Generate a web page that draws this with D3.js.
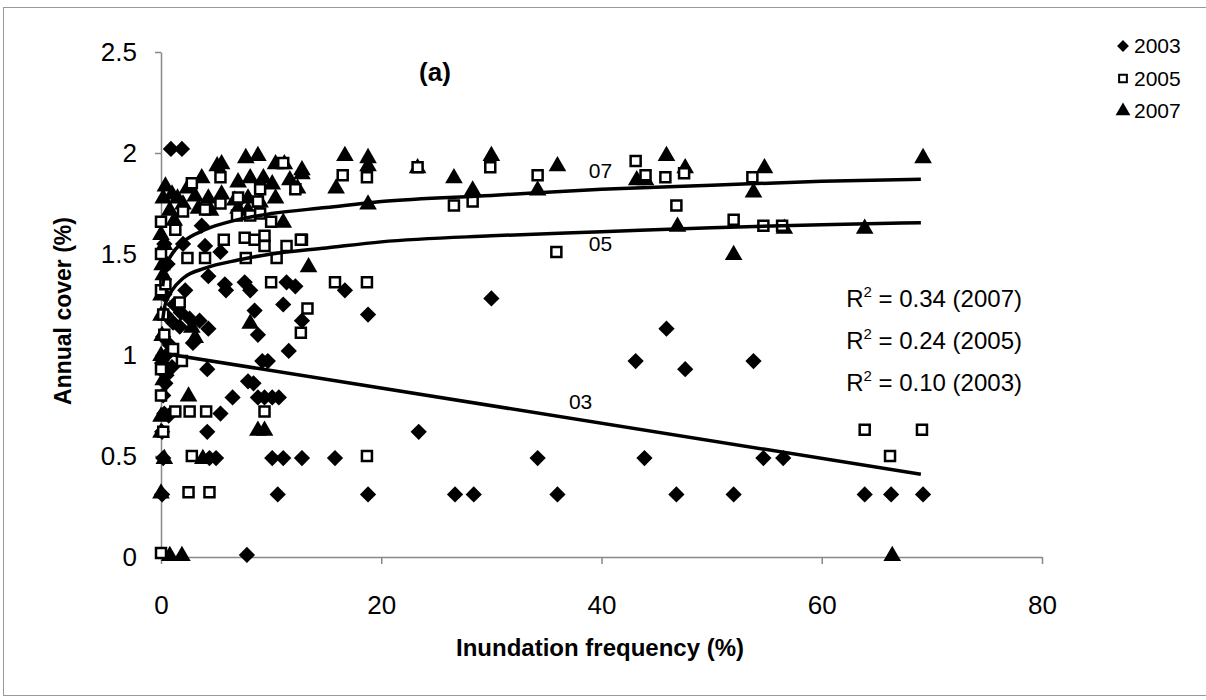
<!DOCTYPE html>
<html><head><meta charset="utf-8">
<script src="https://cdn.jsdelivr.net/npm/d3@7"></script>
<style>
body{margin:0;background:#fff;}
svg{display:block;font-family:Arial,"Liberation Sans",sans-serif;}
</style></head><body>
<svg id="c" width="1206" height="700"></svg>
<script>
// ---- data ----
const series2003 = [[0.9,2.02],[1.9,2.02],[3.7,1.64],[2.0,1.55],[4.0,1.54],[5.4,1.51],[4.3,1.39],[5.8,1.35],[7.6,1.36],[8.1,1.32],[11.4,1.36],[12.2,1.34],[5.9,1.32],[11.1,1.25],[8.5,1.22],[3.5,1.17],[4.3,1.13],[12.8,1.17],[8.8,1.10],[2.9,1.06],[11.6,1.02],[9.2,0.97],[9.7,0.97],[4.2,0.93],[7.9,0.87],[8.4,0.86],[6.5,0.79],[8.8,0.79],[9.4,0.79],[10.1,0.79],[10.7,0.79],[5.4,0.71],[4.2,0.62],[4.4,0.49],[5.0,0.49],[10.1,0.49],[11.1,0.49],[12.8,0.49],[15.8,0.49],[10.6,0.31],[7.8,0.01],[16.7,1.32],[18.8,1.20],[30.0,1.28],[23.4,0.62],[34.2,0.49],[18.8,0.31],[26.7,0.31],[28.4,0.31],[36.0,0.31],[45.9,1.13],[43.1,0.97],[47.6,0.93],[53.8,0.97],[43.9,0.49],[54.7,0.49],[56.5,0.49],[46.8,0.31],[52.0,0.31],[63.9,0.31],[66.3,0.31],[69.2,0.31],[0.1,0.31],[0.2,0.49],[0.1,0.62],[0.3,0.71],[0.2,0.80],[0.4,0.86],[0.1,0.96],[0.5,1.00],[0.2,1.09],[0.8,1.05],[0.4,1.20],[1.1,1.16],[0.3,1.30],[1.2,1.25],[0.6,1.45],[1.8,1.21],[2.6,1.18],[1.7,1.14],[0.3,1.55],[0.7,0.70],[1.0,0.94],[0.5,0.90],[2.2,1.32]];
const series2005 = [[0,0.02],[2.5,0.32],[4.4,0.32],[2.8,0.50],[1.3,0.72],[2.6,0.72],[4.1,0.72],[9.4,0.72],[0,0.80],[13.3,1.23],[12.7,1.11],[16.5,1.89],[18.7,1.88],[23.3,1.93],[26.6,1.74],[28.3,1.76],[29.9,1.93],[34.2,1.89],[35.9,1.51],[15.8,1.36],[18.7,1.36],[12.8,1.57],[18.7,0.50],[43.1,1.96],[44.0,1.89],[45.8,1.88],[47.5,1.90],[53.7,1.88],[46.8,1.74],[52.0,1.67],[54.7,1.64],[56.4,1.64],[63.9,0.63],[69.1,0.63],[66.2,0.50],[5.4,1.88],[11.1,1.95],[2.8,1.85],[9.0,1.82],[12.2,1.82],[5.4,1.75],[7.0,1.78],[8.8,1.76],[2.0,1.71],[4.0,1.72],[6.9,1.69],[8.1,1.69],[9.0,1.70],[10.0,1.66],[0,1.66],[1.3,1.62],[5.7,1.57],[7.6,1.58],[8.5,1.57],[9.4,1.59],[9.4,1.54],[11.4,1.54],[12.7,1.57],[2.4,1.48],[4.0,1.48],[7.7,1.48],[10.5,1.48],[10.0,1.36],[0,1.32],[0.4,1.35],[1.7,1.26],[1.9,0.97],[1.1,1.03],[0,0.93],[0.2,0.62],[0.3,1.10],[0,1.50],[0.2,1.20]];
const series2007 = [[0.8,0.01],[1.9,0.01],[0,0.32],[2.5,0.80],[8.8,0.63],[9.4,0.63],[3.8,0.49],[13.4,1.44],[16.7,1.99],[18.8,1.98],[18.8,1.94],[15.9,1.83],[26.6,1.88],[28.3,1.82],[30.0,1.99],[36.0,1.94],[34.2,1.82],[18.8,1.75],[12.8,1.90],[23.3,1.93],[45.9,1.99],[47.6,1.93],[43.2,1.87],[44.0,1.87],[54.8,1.93],[53.8,1.81],[46.9,1.64],[56.6,1.63],[63.9,1.63],[52.0,1.50],[69.2,1.98],[66.4,0.01],[7.7,1.98],[8.8,1.99],[10.4,1.95],[11.2,1.95],[5.5,1.95],[5.1,1.94],[12.8,1.92],[3.7,1.88],[0.4,1.84],[2.4,1.83],[7.0,1.86],[8.1,1.88],[9.3,1.88],[10.1,1.85],[11.7,1.87],[12.4,1.83],[0.2,1.78],[1.5,1.78],[3.1,1.79],[4.3,1.78],[5.5,1.80],[6.7,1.77],[7.9,1.78],[9.0,1.76],[10.4,1.78],[0.8,1.72],[3.4,1.73],[4.5,1.72],[7.0,1.73],[7.9,1.72],[11.1,1.66],[1.2,1.67],[2.8,1.14],[3.1,1.09],[8.1,1.16],[0,1.20],[0,1.30],[0.2,1.40],[0.1,1.45],[0.3,1.55],[0,1.60],[0.1,1.10],[0,1.00],[0.2,0.88],[0,0.70],[0,0.62],[0.3,0.49],[2.0,1.75],[1.0,1.80]];

// trend lines
const trendX    = [0.15,0.3,0.6,1,2,4,7,10,15,20,30,40,50,60,69];
const trend07Y  = [1.34,1.40,1.46,1.50,1.56,1.62,1.67,1.70,1.73,1.76,1.79,1.82,1.84,1.86,1.87];
const trend05Y  = [1.17,1.23,1.28,1.32,1.38,1.43,1.47,1.50,1.53,1.56,1.59,1.61,1.63,1.645,1.655];
const trend03X  = [0,69];
const trend03Y  = [1.01,0.41];

const xTicks = [0,20,40,60,80];
const yTicks = [0,0.5,1,1.5,2,2.5];
const yTickLabels = ["0","0.5","1","1.5","2","2.5"];
const legendLabels = ["2003","2005","2007"];
const r2Labels = [["0.34","2007"],["0.24","2005"],["0.10","2003"]];

// ---- drawing ----
const svg = d3.select("#c");
const x = d3.scaleLinear().domain([0,80]).range([161,1042]);
const y = d3.scaleLinear().domain([0,2.5]).range([557,52]);

// outer frame
svg.append("rect").attr("x",3.5).attr("y",7.5).attr("width",1210).attr("height",688)
  .attr("fill","none").attr("stroke","#999").attr("stroke-width",1);

const axisColor = "#888";
const gx = svg.append("g").attr("transform","translate(0,557)")
  .call(d3.axisBottom(x).tickValues(xTicks).tickSize(7).tickPadding(32).tickSizeOuter(0));
const gy = svg.append("g").attr("transform","translate(161,0)")
  .call(d3.axisLeft(y).tickValues(yTicks).tickFormat((d,i)=>yTickLabels[i]).tickSize(6).tickPadding(18).tickSizeOuter(0));
[gx,gy].forEach(g=>{
  g.select(".domain").attr("stroke",axisColor).attr("stroke-width",1.5);
  g.selectAll(".tick line").attr("stroke",axisColor).attr("stroke-width",1.5);
  g.selectAll(".tick text").attr("fill","#000").style("font-size","26px").style("font-family","Arial, 'Liberation Sans', sans-serif");
});

// markers
const diamond = d3.symbol().type(d3.symbolSquare).size(132)();
const square = d3.symbol().type(d3.symbolSquare).size(100)();
const tri = d3.symbol().type(d3.symbolTriangle).size(135)();

const g = svg.append("g");
g.selectAll(".d03").data(series2003).join("path").attr("d",diamond)
  .attr("transform",d=>`translate(${x(d[0])},${y(d[1])}) rotate(45)`).attr("fill","#000");
g.selectAll(".d07").data(series2007).join("path").attr("d",tri)
  .attr("transform",d=>`translate(${x(d[0])},${y(d[1])+1})`).attr("fill","#000");
g.selectAll(".d05").data(series2005).join("path").attr("d",square)
  .attr("transform",d=>`translate(${x(d[0])},${y(d[1])})`).attr("fill","#fff").attr("stroke","#000").attr("stroke-width",2.5);

// trend lines
const line = d3.line().x(d=>x(d[0])).y(d=>y(d[1])).curve(d3.curveMonotoneX);
svg.append("path").attr("d",line(trendX.map((v,i)=>[v,trend07Y[i]]))).attr("fill","none").attr("stroke","#000").attr("stroke-width",3.5);
svg.append("path").attr("d",line(trendX.map((v,i)=>[v,trend05Y[i]]))).attr("fill","none").attr("stroke","#000").attr("stroke-width",3.5);
svg.append("path").attr("d",d3.line().x(d=>x(d[0])).y(d=>y(d[1]))(trend03X.map((v,i)=>[v,trend03Y[i]]))).attr("fill","none").attr("stroke","#000").attr("stroke-width",3.5);

// line labels
const lbl = (t,xv,yv)=>svg.append("text").attr("x",x(xv)).attr("y",y(yv)).attr("text-anchor","middle")
  .style("font-size","21px").attr("fill","#000").text(t);
lbl("07",39.9,1.875);
lbl("05",39.9,1.515);
lbl("03",38.1,0.735);

// title
svg.append("text").attr("x",435).attr("y",81).attr("text-anchor","middle")
  .style("font-size","26px").style("font-weight","bold").text("(a)");

// R2 labels
r2Labels.forEach((r,i)=>{
  const t = svg.append("text").attr("x",1022).attr("y",307+i*42).attr("text-anchor","end").style("font-size","24px");
  t.append("tspan").text("R");
  t.append("tspan").attr("dy",-10).style("font-size","15px").text("2");
  t.append("tspan").attr("dy",10).text(` = ${r[0]} (${r[1]})`);
});

// axis titles
svg.append("text").attr("x",600).attr("y",656).attr("text-anchor","middle")
  .style("font-size","24px").style("font-weight","bold").text("Inundation frequency (%)");
svg.append("text").attr("transform","translate(71,311) rotate(-90)").attr("text-anchor","middle")
  .style("font-size","23px").style("font-weight","bold").text("Annual cover (%)");

// legend
const legSyms = [
  {d:d3.symbol().type(d3.symbolSquare).size(70)(), rot:45, fill:"#000", stroke:"none"},
  {d:d3.symbol().type(d3.symbolSquare).size(60)(), rot:0, fill:"#fff", stroke:"#000"},
  {d:d3.symbol().type(d3.symbolTriangle).size(95)(), rot:0, fill:"#000", stroke:"none"}
];
legendLabels.forEach((l,i)=>{
  const yy = 46 + i*32.5;
  svg.append("path").attr("d",legSyms[i].d).attr("transform",`translate(1123,${yy}) rotate(${legSyms[i].rot})`)
    .attr("fill",legSyms[i].fill).attr("stroke",legSyms[i].stroke).attr("stroke-width",2);
  svg.append("text").attr("x",1134).attr("y",yy+7).style("font-size","21px").text(l);
});
</script></body></html>
